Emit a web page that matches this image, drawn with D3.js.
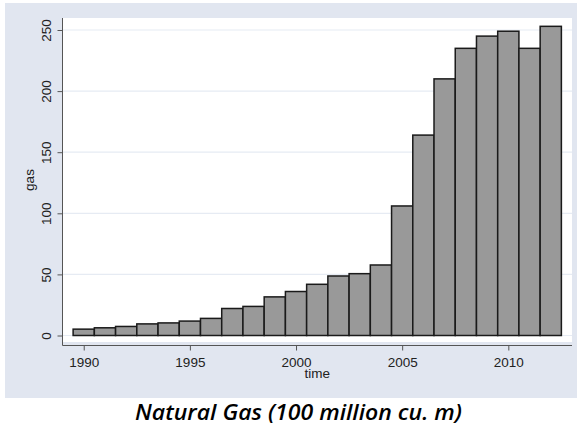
<!DOCTYPE html>
<html>
<head>
<meta charset="utf-8">
<script src="https://cdn.jsdelivr.net/npm/d3@7"></script>
<style>
  body { margin: 0; background: #fff; }
  svg { display: block; }
  text { font-family: "Liberation Sans", Arial, sans-serif; }
</style>
</head>
<body>
<div id="chart"></div>
<script>
// natural gas output by year
var years = [1990, 1991, 1992, 1993, 1994, 1995, 1996, 1997, 1998, 1999, 2000, 2001,
             2002, 2003, 2004, 2005, 2006, 2007, 2008, 2009, 2010, 2011, 2012];
var gas = [5.2, 6.3, 7.4, 9.5, 10.3, 11.8, 14.0, 22.1, 23.8, 31.6, 36.0, 41.9,
           48.7, 50.6, 57.7, 106, 164, 210, 235, 245, 249, 235, 253];
var xTicks = [1990, 1995, 2000, 2005, 2010];
var yTicks = [0, 50, 100, 150, 200, 250];

var W = 577, H = 428;
var plot = {l: 62.5, r: 572, t: 18, b: 342};

var svg = d3.select('#chart').append('svg')
    .attr('width', W)
    .attr('height', H);

// stata-ish outer background
svg.append('rect')
    .attr('x', 5).attr('y', 3)
    .attr('width', W - 5).attr('height', 395)
    .attr('fill', '#e1e6f0');

svg.append('rect')
    .attr('x', plot.l).attr('y', plot.t)
    .attr('width', plot.r - plot.l).attr('height', plot.b - plot.t)
    .attr('fill', '#fff');

var x = d3.scaleLinear().domain([1989, 2013]).range([plot.l, plot.r]);
var y = d3.scaleLinear().domain([0, 250]).range([335.5, 30]);

// gridlines
svg.append('g').selectAll('line')
    .data(yTicks)
    .enter().append('line')
    .attr('x1', plot.l).attr('x2', plot.r)
    .attr('y1', function(d){ return y(d); })
    .attr('y2', function(d){ return y(d); })
    .attr('stroke', '#e6ebf3')
    .attr('stroke-width', 1.2);

var bw = x(1991) - x(1990);

var data = years.map(function(d, i){ return {year: d, value: gas[i]}; });

svg.append('g').selectAll('rect')
    .data(data)
    .enter().append('rect')
    .attr('x', function(d){ return x(d.year) - bw / 2; })
    .attr('y', function(d){ return y(d.value); })
    .attr('width', bw)
    .attr('height', function(d){ return y(0) - y(d.value); })
    .attr('fill', '#999999')
    .attr('stroke', '#1a1a1a')
    .attr('stroke-width', 1.5);

// y axis
var yAxis = d3.axisLeft(y).tickValues(yTicks).tickSize(5).tickSizeOuter(0);
var gy = svg.append('g')
    .attr('transform', 'translate(' + plot.l + ',0)')
    .call(yAxis);
gy.select('.domain').remove();
gy.append('line')
    .attr('x1', 0).attr('x2', 0)
    .attr('y1', plot.t).attr('y2', 345.5)
    .attr('stroke', '#555');
gy.selectAll('.tick line').attr('stroke', '#555');
gy.selectAll('.tick text')
    .attr('x', 0).attr('y', 0).attr('dy', null)
    .attr('transform', 'translate(-12,0) rotate(-90)')
    .attr('text-anchor', 'middle')
    .attr('fill', '#222')
    .style('font-size', '13.5px');

// x axis
var xAxis = d3.axisBottom(x).tickValues(xTicks).tickFormat(d3.format('d')).tickSize(5).tickSizeOuter(0);
var gx = svg.append('g')
    .attr('transform', 'translate(0,345.5)')
    .call(xAxis);
gx.select('.domain').remove();
gx.append('line')
    .attr('x1', plot.l).attr('x2', plot.r)
    .attr('stroke', '#555');
gx.selectAll('.tick line').attr('stroke', '#555');
gx.selectAll('.tick text')
    .attr('y', 21.5).attr('dy', null)
    .attr('fill', '#222')
    .style('font-size', '13.5px');

svg.append('text')
    .attr('transform', 'translate(34,180) rotate(-90)')
    .attr('text-anchor', 'middle')
    .attr('fill', '#222')
    .style('font-size', '13.5px')
    .text('gas');

svg.append('text')
    .attr('x', (plot.l + plot.r) / 2)
    .attr('y', 378)
    .attr('text-anchor', 'middle')
    .attr('fill', '#222')
    .style('font-size', '13.5px')
    .text('time');

svg.append('text')
    .attr('x', 135)
    .attr('y', 420)
    .attr('textLength', 327)
    .attr('lengthAdjust', 'spacingAndGlyphs')
    .style('font-family', '"Open Sans", "Noto Sans", sans-serif')
    .style('font-style', 'italic')
    .style('font-weight', '600')
    .style('font-size', '21px')
    .attr('fill', '#000')
    .text('Natural Gas (100 million cu. m)');
</script>
</body>
</html>
